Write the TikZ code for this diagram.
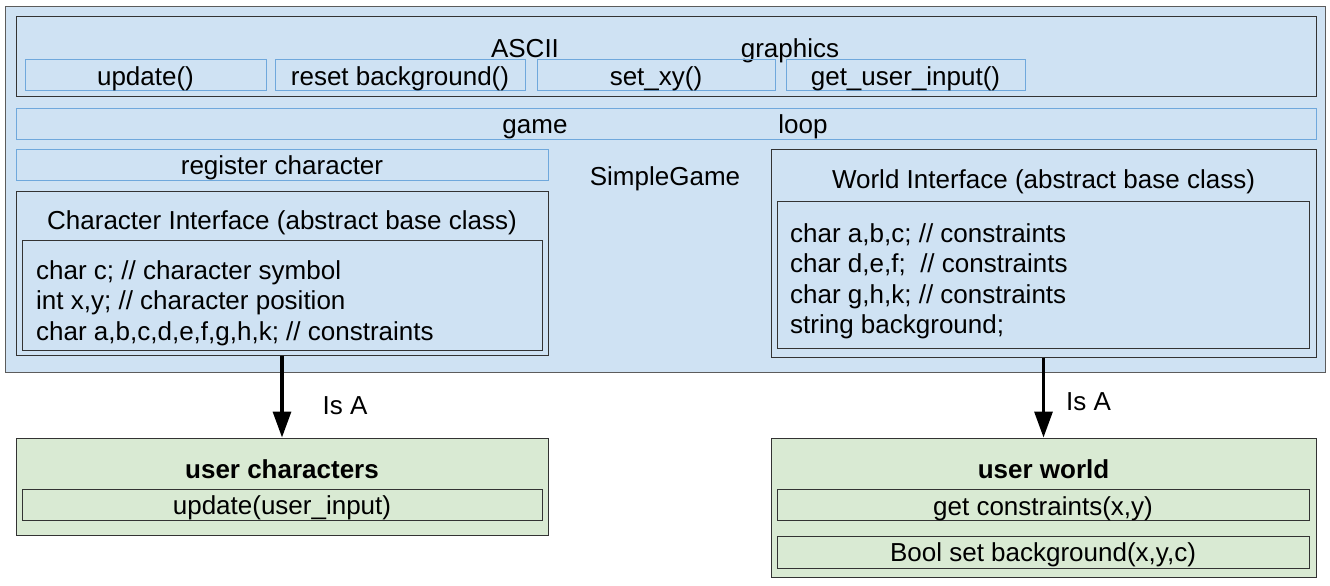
\documentclass[tikz,border=0pt]{standalone}
\usepackage{fontspec}
\setmainfont{Liberation Sans}
\usepackage{tikz}
\usetikzlibrary{arrows.meta}
\usetikzlibrary{positioning}
\definecolor{gameblue}{HTML}{CFE2F3}
\definecolor{usergreen}{HTML}{D9EAD3}
\definecolor{methodblue}{HTML}{6FA8DC}
\definecolor{framegray}{HTML}{333333}

\begin{document}
\begin{tikzpicture}[x=1pt, y=-1pt,
  every node/.style={font=\fontsize{26}{30.5}\selectfont, inner sep=0pt},
  frame/.style={draw=framegray, line width=1pt},
  method/.style={draw=methodblue, line width=1pt},
  txt/.style={anchor=base},
  isa/.style={-{Triangle[width=18pt,length=26pt]}, line width=3.2pt}]
\useasboundingbox (0,0) rectangle (1330,586);
% SimpleGame
\node[draw=framegray!80, fill=gameblue, line width=1pt, minimum width=1320pt, minimum height=365pt] (game) at (665,189.5) {};
\node[txt] (gamename) at (665,185.5) {SimpleGame};
% ASCII graphics
\node[frame, minimum width=1300pt, minimum height=79pt] (ascii) at (666,56.5) {};
\node[txt] (asciiA) at (525,58) {ASCII};
\node[txt] (asciiB) at (790,58) {graphics};
\node[method, minimum width=241pt, minimum height=30pt] (update) at (145.5,75) {};
\node[txt] at (update.center |- 0,85) {update()};
\node[method, minimum width=250pt, minimum height=30pt] (reset) at (400,75) {};
\node[txt] at (reset.center |- 0,85) {reset background()};
\node[method, minimum width=238pt, minimum height=30pt] (setxy) at (656,75) {};
\node[txt] at (setxy.center |- 0,85) {set\_xy()};
\node[method, minimum width=239pt, minimum height=30pt] (input) at (905.5,75) {};
\node[txt] at (input.center |- 0,85) {get\_user\_input()};
% game loop
\node[method, minimum width=1300pt, minimum height=31pt] (loop) at (666,123.5) {};
\node[txt] (loopA) at (535,133.5) {game};
\node[txt] (loopB) at (803,133.5) {loop};
\node[method, minimum width=532pt, minimum height=31pt] (register) at (282,164.5) {};
\node[txt] at (282,174.5) {register character};
% Character Interface
\node[frame, minimum width=532pt, minimum height=164pt] (charif) at (282,273) {};
\node[txt] (chartitle) at (282,229.5) {Character Interface (abstract base class)};
\node[frame, minimum width=520pt, minimum height=110pt] (charbody) at (282,295) {};
\node[anchor=base west, align=left] (charvars) at (36,340) {char c; // character symbol\\int x,y; // character position\\char a,b,c,d,e,f,g,h,k; // constraints};
% World Interface
\node[frame, minimum width=545pt, minimum height=208pt] (worldif) at (1043.5,253) {};
\node[txt] (worldtitle) at (1043.5,188.5) {World Interface (abstract base class)};
\node[frame, minimum width=532pt, minimum height=147pt] (worldbody) at (1043,274.5) {};
\node[anchor=base west, align=left] (worldvars) at (790,333.5) {char a,b,c; // constraints\\char d,e,f;~ // constraints\\char g,h,k; // constraints\\string background;};
% user classes
\node[frame, fill=usergreen, minimum width=532pt, minimum height=97pt] (charu) at (282,486.5) {};
\node[txt, font=\fontsize{26}{30.5}\selectfont\bfseries] at (282,478.5) {user characters};
\node[frame, minimum width=520pt, minimum height=31pt] (charupd) at (282,504.5) {};
\node[txt] at (282,514.5) {update(user\_input)};
\node[frame, fill=usergreen, minimum width=545pt, minimum height=139pt] (worldu) at (1043.5,507.5) {};
\node[txt, font=\fontsize{26}{30.5}\selectfont\bfseries] at (1043.5,478.5) {user world};
\node[frame, minimum width=532pt, minimum height=31pt] (worldget) at (1043,504.5) {};
\node[txt] at (1043,515) {get constraints(x,y)};
\node[frame, minimum width=532pt, minimum height=32pt] (worldset) at (1043,552) {};
\node[txt] at (1043,561.5) {Bool set background(x,y,c)};
% Is A
\draw[isa] (charif) -- (charu) node[pos=.55, right=39pt, anchor=base west, yshift=-14pt] {Is A};
\draw[isa] (worldif) -- (worldu) node[pos=.5, right=21pt, anchor=base west, yshift=-13pt] {Is A};
\end{tikzpicture}
\end{document}
